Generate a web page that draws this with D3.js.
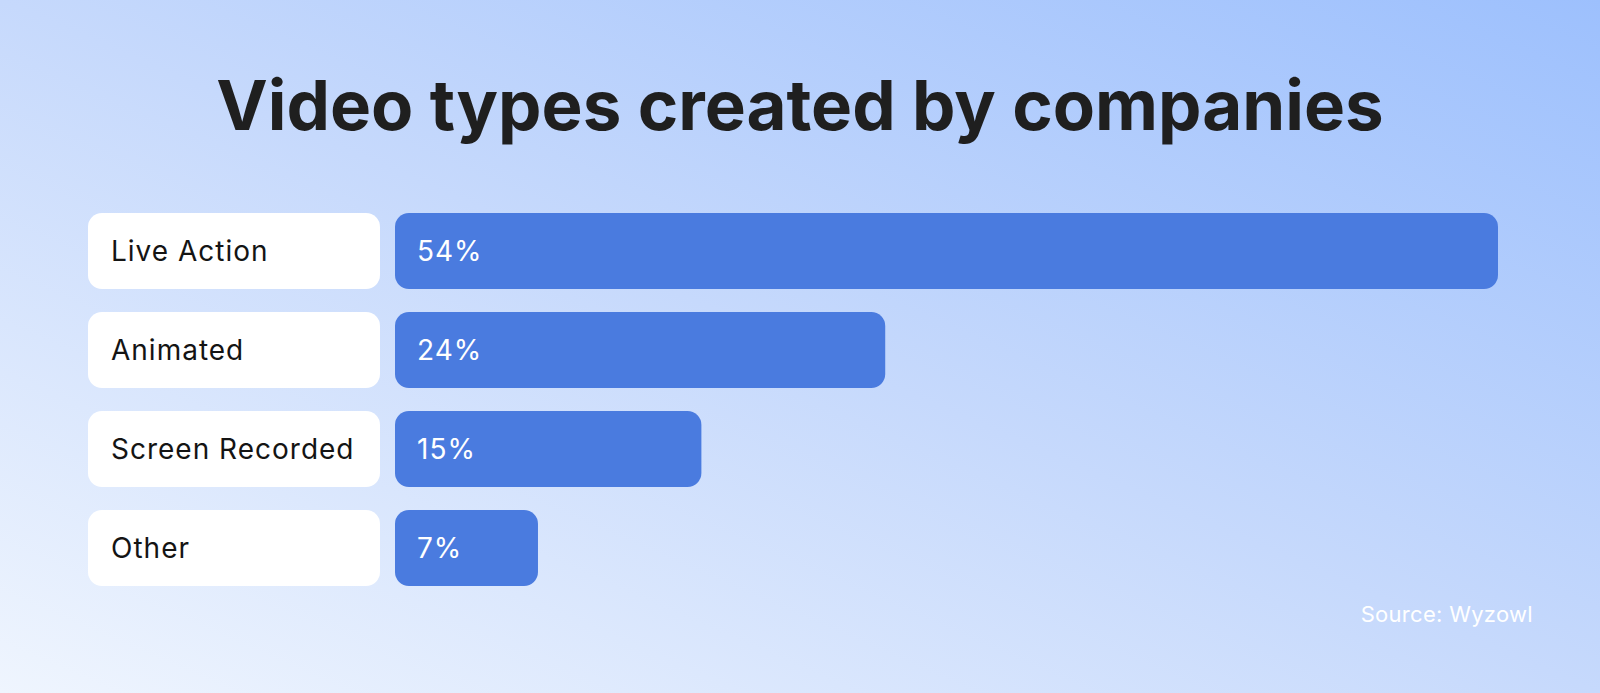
<!DOCTYPE html>
<html>
<head>
<meta charset="utf-8">
<script src="https://cdn.jsdelivr.net/npm/d3@7"></script>
<style>
  html, body { margin: 0; padding: 0; overflow: hidden; }
  svg { display: block; }
</style>
</head>
<body>
<div id="chart"></div>
<script>
// data
const categories = ["Live Action", "Animated", "Screen Recorded", "Other"];
const values = [54, 24, 15, 7];
const valueLabels = ["54%", "24%", "15%", "7%"];

const title = "Video types created by companies";
const source = "Source: Wyzowl";

const width = 1600, height = 693;

const svg = d3.select("#chart")
  .append("svg")
    .attr("width", width)
    .attr("height", height);

// background: diagonal gradient, light bottom-left -> blue top-right
const defs = svg.append("defs");
const grad = defs.append("linearGradient")
    .attr("id", "bg")
    .attr("x1", 0).attr("y1", 1)
    .attr("x2", 1).attr("y2", 0);
grad.append("stop").attr("offset", "0%").attr("stop-color", "#eff5fe");
grad.append("stop").attr("offset", "50%").attr("stop-color", "#c6d9fc");
grad.append("stop").attr("offset", "100%").attr("stop-color", "#9dc0fd");

svg.append("rect")
    .attr("width", width)
    .attr("height", height)
    .attr("fill", "url(#bg)");

// title
svg.append("text")
    .attr("x", width / 2)
    .attr("y", 130)
    .attr("text-anchor", "middle")
    .attr("font-family", "Inter, 'Noto Sans', sans-serif")
    .attr("font-weight", 700)
    .attr("font-size", 69)
    .attr("fill", "#1f1f1f")
    .text(title);

// scales
const y = d3.scaleBand()
    .domain(categories)
    .range([213, 586])
    .paddingInner(0.232)
    .paddingOuter(0);

const x = d3.scaleLinear()
    .domain([0, 54])
    .range([395, 1498]);

const labelX0 = 88, labelX1 = 380;
const fontSize = 28;

const rows = svg.append("g")
  .selectAll("g")
  .data(categories)
  .join("g")
    .attr("transform", d => `translate(0, ${y(d)})`);

// white label boxes
rows.append("rect")
    .attr("x", labelX0)
    .attr("width", labelX1 - labelX0)
    .attr("height", y.bandwidth())
    .attr("rx", 14)
    .attr("fill", "#ffffff");

rows.append("text")
    .attr("x", labelX0 + 23)
    .attr("y", y.bandwidth() / 2 + 10)
    .attr("font-family", "Inter, 'Noto Sans', sans-serif")
    .attr("font-size", fontSize)
    .attr("letter-spacing", 1)
    .attr("fill", "#141414")
    .text(d => d);

// bars
rows.append("rect")
    .attr("x", x(0))
    .attr("width", (d, i) => x(values[i]) - x(0))
    .attr("height", y.bandwidth())
    .attr("rx", 14)
    .attr("fill", "#4a7bdf");

rows.append("text")
    .attr("x", x(0) + 22)
    .attr("y", y.bandwidth() / 2 + 10)
    .attr("font-family", "Inter, 'Noto Sans', sans-serif")
    .attr("font-size", fontSize)
    .attr("letter-spacing", 1)
    .attr("fill", "#ffffff")
    .text((d, i) => valueLabels[i]);

// source note
svg.append("text")
    .attr("x", 1533)
    .attr("y", 622)
    .attr("text-anchor", "end")
    .attr("font-family", "Inter, 'Noto Sans', sans-serif")
    .attr("font-size", 22)
    .attr("letter-spacing", 0.3)
    .attr("fill", "#ffffff")
    .text(source);
</script>
</body>
</html>
